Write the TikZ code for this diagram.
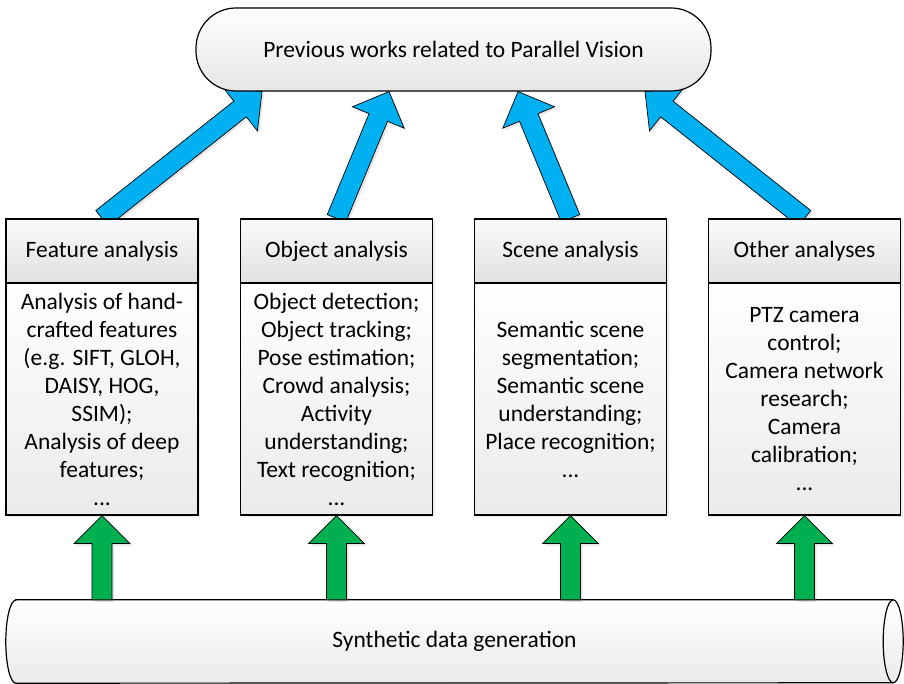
\documentclass[tikz,border=0pt]{standalone}
\usepackage{fontspec}
\setmainfont{Carlito}
\usetikzlibrary{calc,shadows,backgrounds}
\definecolor{arrowblue}{HTML}{00B0F0}
\definecolor{arrowgreen}{HTML}{00B050}

% fat block arrow: style, from, to
\newcommand{\blockarrow}[3]{
  \coordinate (ba_s) at (#2);
  \coordinate (ba_t) at (#3);
  \coordinate (ba_h) at ($(ba_t)!28pt!(ba_s)$);
  \path[#1] ($(ba_s)!10pt!90:(ba_t)$) -- ($(ba_h)!10pt!-90:(ba_s)$) -- ($(ba_h)!28pt!-90:(ba_s)$)
    -- (ba_t) -- ($(ba_h)!28pt!90:(ba_s)$) -- ($(ba_h)!10pt!90:(ba_s)$) -- ($(ba_s)!10pt!-90:(ba_t)$) -- cycle;
}

\begin{document}
\begin{tikzpicture}[x=1pt, y=1pt, font=\fontsize{23.5}{28}\selectfont]
    \tikzstyle{prev_style}=[draw, line width=1.2pt, rounded corners=40pt, minimum width=515pt, minimum height=83pt, top color=white, bottom color=black!10]
    \tikzstyle{head_style}=[draw, line width=1.2pt, minimum width=192pt, minimum height=64pt, top color=black!2, bottom color=black!12, drop shadow={opacity=0.15, shadow xshift=2pt, shadow yshift=-2pt}]
    \tikzstyle{body_style}=[draw, line width=1.2pt, minimum width=192pt, minimum height=232pt, align=center, top color=white, bottom color=black!8, drop shadow={opacity=0.15, shadow xshift=2pt, shadow yshift=-2pt}]
    \tikzstyle{cyl_style}=[draw, line width=1.2pt, top color=white, bottom color=black!8]
    \tikzstyle{blue_arrow}=[draw, line width=0.7pt, fill=arrowblue, drop shadow={opacity=0.2, shadow xshift=2pt, shadow yshift=-2pt}]
    \tikzstyle{green_arrow}=[draw, line width=0.7pt, fill=arrowgreen, drop shadow={opacity=0.2, shadow xshift=2pt, shadow yshift=-2pt}]

    \useasboundingbox (0,0) rectangle (904,684);

    % previous works
    \node at (453.5, 634.5) [prev_style] (prev) {Previous works related to Parallel Vision};

    % analysis boxes
    \foreach \x/\boxname/\boxtitle/\boxtext in {
        102/feat/Feature analysis/{Analysis of hand-\\crafted features\\(e.g. SIFT, GLOH,\\DAISY, HOG,\\SSIM);\\Analysis of deep\\features;\\...},
        336.5/obj/Object analysis/{Object detection;\\Object tracking;\\Pose estimation;\\Crowd analysis;\\Activity\\understanding;\\Text recognition;\\...},
        570.5/scene/Scene analysis/{Semantic scene\\segmentation;\\Semantic scene\\understanding;\\Place recognition;\\...},
        804.5/other/Other analyses/{PTZ camera\\control;\\Camera network\\research;\\Camera\\calibration;\\...}} {
      \node at (\x, 433) [head_style] (\boxname_head) {\boxtitle};
      \node at (\x, 285) [body_style] (\boxname_body) {\boxtext};
    }

    % synthetic data generation
    \node at (454.5, 42.5) [minimum width=897pt, minimum height=83pt] (gen) {Synthetic data generation};

    \begin{pgfonlayer}{background}
      % cylinder outline
      \path[cyl_style] ([xshift=10pt]gen.north west) -- ([xshift=-10pt]gen.north east)
        arc (90:-90:10pt and 41.5pt) -- ([xshift=10pt]gen.south west)
        arc (270:90:10pt and 41.5pt) -- cycle;
      \draw[line width=1.2pt] ([xshift=-10pt]gen.north east) arc (90:270:10pt and 41.5pt);

      % connect: gen -> analysis boxes
      \foreach \n in {feat,obj,scene,other}
        \blockarrow{green_arrow}{\n_body.south |- gen.north}{\n_body.south};

      % connect: analysis boxes -> prev
      \foreach \n/\s in {feat/-191.5, obj/-64.5, scene/64.5, other/191.5}
        \blockarrow{blue_arrow}{\n_head.north}{[xshift=\s pt]prev.south};
    \end{pgfonlayer}
\end{tikzpicture}
\end{document}
